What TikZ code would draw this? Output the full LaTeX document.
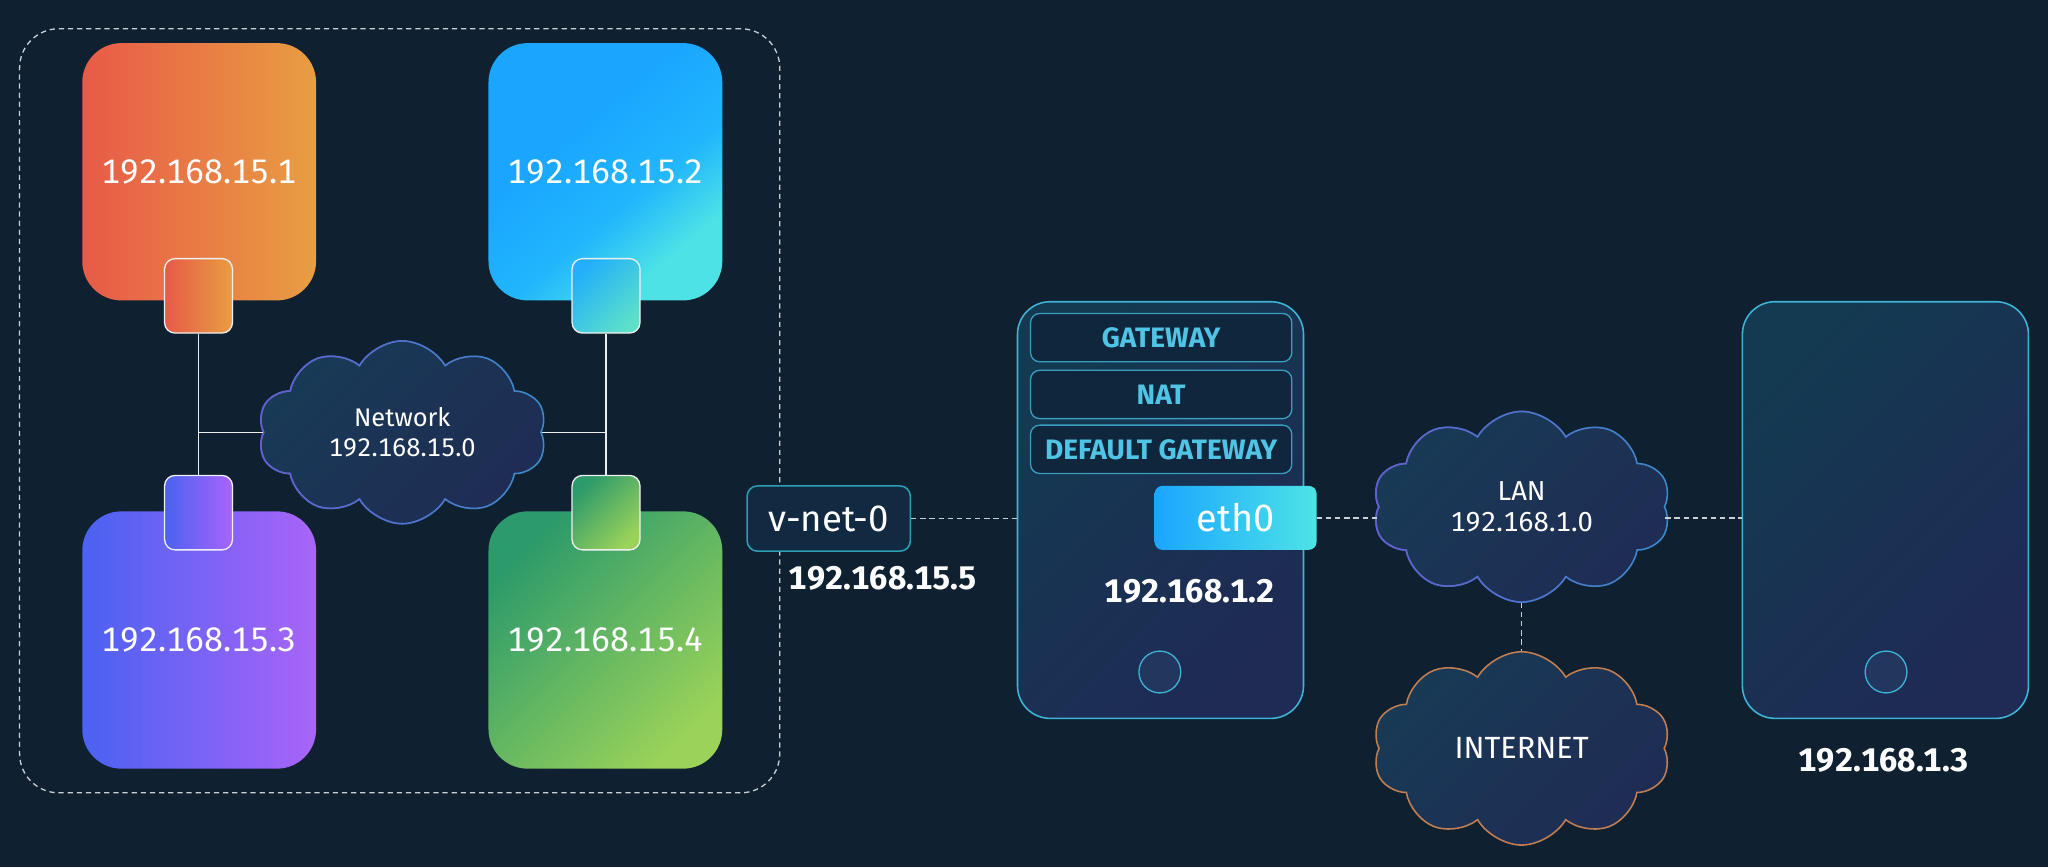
\documentclass[tikz,border=0pt]{standalone}
\usepackage{fontspec}
\setmainfont{Fira Sans}[Numbers=Monospaced]
\usetikzlibrary{shapes.symbols,fadings}
\definecolor{bg}{HTML}{0F2130}
\definecolor{oA}{HTML}{E85A48}
\definecolor{oB}{HTML}{E89E42}
\definecolor{bA}{HTML}{1AA6FF}
\definecolor{bM}{HTML}{22B6FC}
\definecolor{bB}{HTML}{4DE3E6}
\definecolor{pA}{HTML}{4A62F2}
\definecolor{pB}{HTML}{A964F8}
\definecolor{gA}{HTML}{2C9A6B}
\definecolor{gB}{HTML}{9AD25A}
\definecolor{lineC}{HTML}{C8D0D8}
\definecolor{tealC}{HTML}{3DB4D6}
\definecolor{rowC}{HTML}{3A9EC0}
\definecolor{rowT}{HTML}{4FC4E4}
\definecolor{rowF}{HTML}{10263C}
\definecolor{devA}{HTML}{133A50}
\definecolor{devB}{HTML}{1F2A55}
\definecolor{cldA}{HTML}{183A55}
\definecolor{cldB}{HTML}{1F2C54}
\definecolor{cBlue}{HTML}{3A8CCB}
\definecolor{cPurp}{HTML}{6A5AD2}
\definecolor{cOra}{HTML}{C07E52}
\definecolor{vnF}{HTML}{112A42}
\definecolor{vnD}{HTML}{2A9FB5}
\definecolor{btnF}{HTML}{22365E}
\pgfdeclareverticalshading{bluegrad}{100bp}{color(0bp)=(bB); color(28bp)=(bB); color(42bp)=(bM); color(60bp)=(bA); color(100bp)=(bA)}
\tikzset{
  hostbox/.style={rectangle, rounded corners=30pt, minimum width=179pt, minimum height=197pt, inner sep=0pt, text=white, font=\fontsize{26}{30}\selectfont},
  portbox/.style={rectangle, rounded corners=8pt, minimum width=52pt, minimum height=57pt, draw=white!88!gray, line width=1pt, inner sep=0pt},
  conn/.style={draw=white!85!gray, line width=0.9pt},
  dconn/.style={draw=lineC, line width=1pt, dash pattern=on 4pt off 3pt},
  groupbox/.style={rectangle, rounded corners=30pt, draw=lineC, line width=1pt, dash pattern=on 4pt off 3pt, inner sep=0pt},
  cloudbase/.style={cloud, cloud puffs=10, cloud puff arc=120, aspect=1.55, inner sep=0pt, line width=1.2pt, text=white, align=center},
  cloudfill/.style={cloudbase, top color=cldA, bottom color=cldB, shading angle=45, draw=cBlue},
  cloudfade/.style={cloudbase, draw=cPurp, path fading=east},
  vnetbox/.style={rectangle, rounded corners=8pt, minimum width=125pt, minimum height=50pt, fill=vnF, draw=vnD, line width=1.2pt, text=white, font=\fontsize{28}{32}\selectfont, inner sep=0pt},
  iplabel/.style={text=white, font=\bfseries\fontsize{25}{30}\selectfont, inner sep=0pt},
  device/.style={rectangle, rounded corners=25pt, minimum width=219pt, minimum height=319pt, draw=tealC, line width=1.2pt, top color=devA, bottom color=devB, shading angle=45, inner sep=0pt},
  rowbox/.style={rectangle, rounded corners=7pt, minimum width=200pt, minimum height=37pt, fill=rowF, draw=rowC, line width=1pt, text=rowT, font=\bfseries\fontsize{21.5}{24}\selectfont, inner sep=0pt},
  ethbox/.style={rectangle, rounded corners=6pt, minimum width=124pt, minimum height=49pt, left color=bA, right color=bB, text=white, font=\fontsize{29}{32}\selectfont, inner sep=0pt},
  btn/.style={circle, minimum size=32pt, inner sep=0pt, fill=btnF, draw=tealC, line width=1pt}
}
\begin{document}
\begin{tikzpicture}[x=1pt,y=-1pt]
\fill[bg] (0,0) rectangle (1568,664);
\useasboundingbox (0,0) rectangle (1568,664);

% group container
\node[groupbox, minimum width=582pt, minimum height=585pt] (grp) at (306,314.5) {};

% hosts
\node[hostbox, left color=oA, right color=oB] (h1) at (152.5,131.5) {192.168.15.1};
\node[hostbox, shading=bluegrad, shading angle=40] (h2) at (463.5,131.5) {192.168.15.2};
\node[hostbox, left color=pA, right color=pB] (h3) at (152.5,490) {192.168.15.3};
\node[hostbox, top color=gA, bottom color=gB, shading angle=45] (h4) at (463.5,490) {192.168.15.4};

% ports
\node[portbox, left color=oA, right color=oB] (p1) at (152,226.5) {};
\node[portbox, top color=bA!85!bB, bottom color=bB!80!gB, shading angle=45] (p2) at (464,226.5) {};
\node[portbox, left color=pA, right color=pB] (p3) at (152,392.5) {};
\node[portbox, top color=gA, bottom color=gB, shading angle=45] (p4) at (464,392.5) {};

% network cloud
\node[cloudfill, minimum width=221pt, minimum height=140pt, font=\fontsize{19.5}{23}\selectfont] (net) at (308,331) {Network\\192.168.15.0};
\node[cloudfade, minimum width=221pt, minimum height=140pt] (netb) at (308,331) {};

\draw[conn] (p1.south) -- (p3.north);
\draw[conn] (p2.south) -- (p4.north);
\draw[conn] (net.west) -- (net.west -| p1.south);
\draw[conn] (net.east) -- (net.east -| p2.south);

% v-net
\node[vnetbox] (vnet) at (634.5,397) {v-net-0};
\node[iplabel] (ipv) at (676,443) {192.168.15.5};

% gateway device
\node[device] (gw) at (888.5,390.5) {};
\node[rowbox] (r1) at (889,258.5) {GATEWAY};
\node[rowbox] (r2) at (889,302) {NAT};
\node[rowbox] (r3) at (889,344) {DEFAULT GATEWAY};
\node[ethbox] (eth) at (946,396.5) {eth0};
\node[iplabel] (ipgw) at (911,453) {192.168.1.2};
\node[btn] (gwb) at (888,514.5) {};

\draw[dconn] (vnet.east) -- (vnet.east -| gw.west);

% LAN cloud
\node[cloudfill, minimum width=228pt, minimum height=146pt, font=\fontsize{21}{24}\selectfont] (lan) at (1165,388) {LAN\\192.168.1.0};
\node[cloudfade, minimum width=228pt, minimum height=146pt] (lanb) at (1165,388) {};

% Internet cloud
\node[cloudbase, top color=cldA, bottom color=cldB, shading angle=45, draw=cOra, minimum width=228pt, minimum height=148pt, font=\fontsize{23.5}{26}\selectfont] (inet) at (1165,573) {INTERNET};

% right device
\node[device] (dev) at (1443.5,390.5) {};
\node[btn] (devb) at (1444,514.5) {};
\node[iplabel] (ipdev) at (1442,582) {192.168.1.3};

\draw[dconn] (eth.east) -- (eth.east -| lan.west);
\draw[dconn] (eth.east -| lan.east) -- (eth.east -| dev.west);
\draw[dconn] (lan.south) -- (inet.north);
\end{tikzpicture}
\end{document}
